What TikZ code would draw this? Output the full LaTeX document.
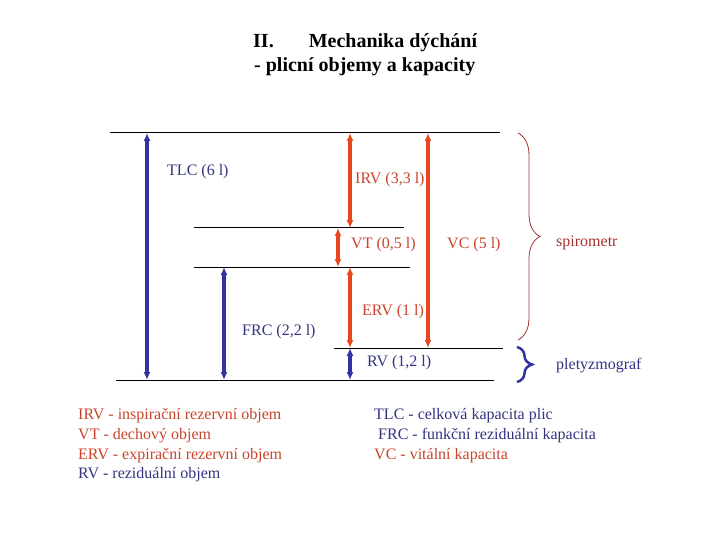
\documentclass[tikz,border=0pt]{standalone}
\usepackage{fontspec}
\setmainfont{Liberation Serif}
\usepackage{tikz}
\usetikzlibrary{arrows.meta,decorations.pathreplacing}
\definecolor{cobj}{HTML}{E8461E}
\definecolor{ckap}{HTML}{3333A0}
\definecolor{tobj}{HTML}{C8442A}
\definecolor{tkap}{HTML}{333380}
\definecolor{cspi}{HTML}{A03030}

\begin{document}
\begin{tikzpicture}[x=1pt,y=-1pt,>={Latex[length=8pt,width=7pt]},
    font=\fontsize{16}{18}\selectfont,
    level/.style={black,line width=1pt},
    objem/.style={<->,line width=3.4pt,cobj},
    kapac/.style={<->,line width=3.4pt,ckap},
    lab/.style={anchor=west,inner sep=0pt}]
    \useasboundingbox (0,0) rectangle (720,540);
    % nadpis
    \node[lab,font=\fontsize{20}{22}\selectfont\bfseries] (nad1) at (253,43) {II.\hspace{35pt}Mechanika dýchání};
    \node[lab,font=\fontsize{20}{22}\selectfont\bfseries] (nad2) at (254,67) {- plicní objemy a kapacity};
    % hladiny
    \coordinate (h1a) at (110,133); \coordinate (h1b) at (500,133);
    \coordinate (h2a) at (194,228); \coordinate (h2b) at (404,228);
    \coordinate (h3a) at (194,267); \coordinate (h3b) at (410,267);
    \coordinate (h4a) at (334,348); \coordinate (h4b) at (503,348);
    \coordinate (h5a) at (116,380); \coordinate (h5b) at (494,380);
    \draw[level] (h1a) -- (h1b);
    \draw[level] (h2a) -- (h2b);
    \draw[level] (h3a) -- (h3b);
    \draw[level] (h4a) -- (h4b);
    \draw[level] (h5a) -- (h5b);
    % objemy a kapacity
    \draw[kapac] (147,133) coordinate (tlc1) -- (147,380) coordinate (tlc2);
    \draw[kapac] (224,267) coordinate (frc1) -- (224,380) coordinate (frc2);
    \draw[objem] (350,133) coordinate (irv1) -- (350,228) coordinate (irv2);
    \draw[objem] (338,228) coordinate (vt1) -- (338,267) coordinate (vt2);
    \draw[objem] (350,267) coordinate (erv1) -- (350,348) coordinate (erv2);
    \draw[kapac] (350,348) coordinate (rv1) -- (350,380) coordinate (rv2);
    \draw[objem] (428,133) coordinate (vc1) -- (428,348) coordinate (vc2);
    \node[lab,tkap] (tlc) at (167,172) {TLC (6 l)};
    \node[lab,tobj] (irv) at (355,180) {IRV (3,3 l)};
    \node[lab,tobj] (vt) at (351,245) {VT (0,5 l)};
    \node[lab,tobj] (vc) at (447,245) {VC (5 l)};
    \node[lab,tobj] (erv) at (362,312) {ERV (1 l)};
    \node[lab,tkap] (frc) at (242,332) {FRC (2,2 l)};
    \node[lab,tkap] (rv) at (367,363) {RV (1,2 l)};
    % metody
    \draw[cspi,line width=0.8pt,decorate,decoration={brace,amplitude=22pt}] (518,133) -- (518,340);
    \draw[ckap,line width=2.5pt,decorate,decoration={brace,amplitude=15pt}] (517,347) -- (517,382);
    \node[lab,cspi] (spi) at (556,243) {spirometr};
    \node[lab,tkap] (ple) at (556,366) {pletyzmograf};
    % legenda
    \node[lab,tobj] (l1) at (78,416) {IRV - inspirační rezervní objem};
    \node[lab,tobj] (l2) at (78,436) {VT - dechový objem};
    \node[lab,tobj] (l3) at (78,456) {ERV - expirační rezervní objem};
    \node[lab,tkap] (l4) at (78,475) {RV - reziduální objem};
    \node[lab,tkap] (r1) at (374,416) {TLC - celková kapacita plic};
    \node[lab,tkap] (r2) at (378,436) {FRC - funkční reziduální kapacita};
    \node[lab,tobj] (r3) at (374,456) {VC - vitální kapacita};
\end{tikzpicture}
\end{document}
